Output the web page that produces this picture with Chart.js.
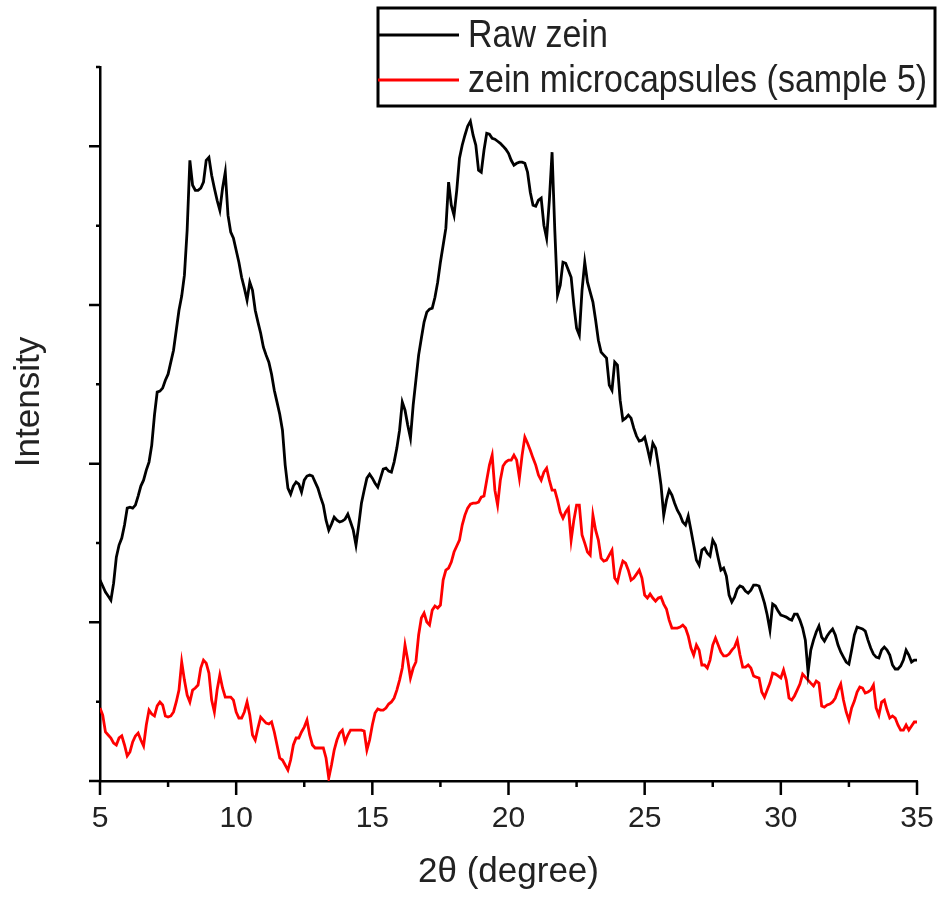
<!DOCTYPE html>
<html>
<head>
<meta charset="utf-8">
<title>XRD patterns of zein</title>
<script src="https://cdn.jsdelivr.net/npm/chart.js@4.4.1/dist/chart.umd.min.js"></script>
<style>
  html, body { margin: 0; padding: 0; background: #fff; }
  #wrap { width: 938px; height: 900px; position: relative; }
</style>
</head>
<body>
<div id="wrap"><canvas id="xrd"></canvas></div>
<script>
'use strict';

// ── SCAN GRID ─────────────────────────────────────────────────────
const SCAN_START = 5;     // 2θ, degree
const SCAN_STEP  = 0.1;

const X_TICKS = [5, 10, 15, 20, 25, 30, 35];
const X_MINOR = [7.5, 12.5, 17.5, 22.5, 27.5, 32.5];
const Y_TICKS = [0, 1000, 2000, 3000, 4000];
const Y_MINOR = [500, 1500, 2500, 3500, 4500];

// ── INTENSITIES (a.u.), one value per scan step ───────────────────
const rawZein = [
  1266, 1229, 1191, 1166, 1140, 1247, 1411, 1487, 1531, 1613,
  1720, 1726, 1720, 1739, 1796, 1859, 1896, 1959, 2010, 2117,
  2306, 2451, 2457, 2476, 2526, 2564, 2640, 2715, 2841, 2967,
  3056, 3188, 3471, 3912, 3755, 3723, 3723, 3736, 3774, 3912,
  3931, 3818, 3736, 3660, 3597, 3736, 3837, 3566, 3459, 3421,
  3345, 3270, 3175, 3106, 3030, 3144, 3093, 2967, 2892, 2822,
  2734, 2684, 2640, 2564, 2463, 2388, 2312, 2211, 1991, 1846,
  1808, 1859, 1884, 1871, 1821, 1896, 1922, 1928, 1922, 1884,
  1846, 1789, 1739, 1644, 1581, 1619, 1663, 1644, 1632, 1638,
  1651, 1682, 1632, 1581, 1487, 1613, 1751, 1833, 1909, 1934,
  1909, 1877, 1852, 1909, 1966, 1972, 1953, 1947, 2010, 2098,
  2211, 2388, 2337, 2243, 2161, 2369, 2526, 2684, 2791, 2892,
  2955, 2974, 2980, 3049, 3144, 3270, 3377, 3484, 3774, 3629,
  3566, 3723, 3925, 4007, 4070, 4127, 4158, 4070, 4007, 3849,
  3837, 3975, 4082, 4076, 4051, 4045, 4032, 4019, 4001, 3982,
  3956, 3912, 3881, 3893, 3900, 3900, 3893, 3837, 3711, 3629,
  3623, 3660, 3673, 3503, 3421, 3660, 3963, 3471, 3062, 3125,
  3270, 3263, 3219, 3175, 2999, 2854, 2810, 3093, 3270, 3144,
  3081, 3018, 2904, 2778, 2703, 2684, 2665, 2495, 2463, 2640,
  2621, 2400, 2274, 2287, 2306, 2287, 2224, 2174, 2142, 2148,
  2167, 2098, 2022, 2129, 2098, 1991, 1865, 1676, 1770, 1833,
  1802, 1751, 1707, 1676, 1632, 1613, 1670, 1581, 1487, 1392,
  1361, 1455, 1468, 1436, 1418, 1518, 1487, 1405, 1329, 1342,
  1292, 1172, 1128, 1159, 1210, 1229, 1222, 1197, 1184, 1203,
  1235, 1235, 1229, 1178, 1121, 1046,  951, 1115, 1103, 1071,
  1046, 1040, 1033, 1021, 1014, 1052, 1052, 1014,  964,  888,
   687,  825,  888,  939,  977,  907,  882,  914,  939,  958,
   920,  857,  813,  781,  750,  737,  825,  920,  970,  964,
   958,  945,  888,  838,  800,  781,  775,  825,  844,  825,
   794,  731,  706,  706,  725,  762,  825,  794,  750,  762,
   762
];

const microcapsules = [
   460,  416,  309,  290,  271,  239,  227,  271,  284,  227,
   158,  183,  246,  284,  302,  258,  221,  353,  447,  422,
   410,  473,  498,  479,  410,  403,  410,  435,  498,  573,
   750,  636,  542,  498,  573,  586,  605,  712,  762,  743,
   680,  510,  435,  573,  668,  586,  529,  529,  529,  510,
   435,  397,  397,  435,  498,  416,  290,  258,  334,  403,
   384,  365,  359,  372,  309,  227,  145,  132,  101,   69,
   132,  227,  271,  271,  309,  340,  384,  290,  227,  208,
   208,  208,  208,  145,   19,  101,  195,  258,  302,  321,
   246,  290,  321,  321,  321,  321,  321,  315,  195,  258,
   353,  428,  454,  447,  447,  460,  485,  498,  523,  573,
   636,  712,  857,  762,  649,  712,  750,  920, 1027, 1058,
  1002,  983, 1077, 1103, 1090, 1109, 1266, 1329, 1342, 1380,
  1443, 1481, 1518, 1613, 1676, 1720, 1745, 1751, 1751, 1758,
  1789, 1796, 1896, 1991, 2054, 1833, 1739, 1896, 1985, 2010,
  2022, 2022, 2054, 2022, 1909, 2054, 2167, 2129, 2085, 2035,
  1991, 1928, 1896, 1947, 1972, 1896, 1833, 1833, 1770, 1695,
  1657, 1695, 1720, 1518, 1644, 1739, 1739, 1550, 1499, 1443,
  1424, 1676, 1581, 1518, 1405, 1386, 1392, 1424, 1455, 1279,
  1254, 1329, 1386, 1373, 1329, 1266, 1279, 1304, 1329, 1279,
  1172, 1153, 1178, 1153, 1134, 1153, 1159, 1115, 1084, 1014,
   964,  964,  964,  970,  983,  964,  914,  838,  794,  857,
   825,  731,  731,  712,  762,  857,  901,  857,  813,  788,
   788,  800,  825,  844,  888,  794,  718,  718,  731,  712,
   662,  655,  649,  561,  529,  573,  617,  680,  674,  662,
   649,  699,  636,  523,  510,  536,  573,  611,  674,  655,
   636,  617,  599,  630,  617,  473,  466,  479,  485,  498,
   523,  573,  611,  510,  435,  384,  460,  504,  561,  592,
   586,  554,  561,  573,  605,  460,  416,  498,  510,  447,
   397,  410,  397,  353,  321,  321,  353,  321,  347,  372,
   372
];

const SERIES_LABELS = ['Raw zein', 'zein microcapsules (sample 5)'];
const SERIES_COLORS = ['#000000', '#ff0000'];

// ── STYLE ─────────────────────────────────────────────────────────
const FONT_FAMILY = "'Liberation Sans', Arial, sans-serif";
const TEXT_COLOR  = '#222';
const AXIS_WIDTH  = 2.5;

Chart.defaults.font.family = FONT_FAMILY;
Chart.defaults.color = TEXT_COLOR;

function toPoints(values) {
  return values.map((v, i) => ({ x: +(SCAN_START + i * SCAN_STEP).toFixed(1), y: v }));
}

// ── TICK MARKS (major + minor, outward) ──────────────────────────
const axisTicks = {
  id: 'axisTicks',
  afterDraw(chart) {
    const { ctx, scales: { x, y } } = chart;
    ctx.save();
    ctx.strokeStyle = '#000';
    ctx.lineWidth = AXIS_WIDTH;
    ctx.beginPath();
    const mark = (px, py, dx, dy) => { ctx.moveTo(px, py); ctx.lineTo(px + dx, py + dy); };
    X_TICKS.forEach(v => mark(x.getPixelForValue(v), y.bottom, 0, 14));
    X_MINOR.forEach(v => mark(x.getPixelForValue(v), y.bottom, 0, 6));
    Y_TICKS.forEach(v => mark(x.left, y.getPixelForValue(v), -11, 0));
    Y_MINOR.forEach(v => mark(x.left, y.getPixelForValue(v), -4, 0));
    ctx.stroke();
    ctx.restore();
  }
};

// ── Y TITLE (sits a little above the axis centre) ─────────────────
const yTitle = {
  id: 'yTitle',
  afterDraw(chart) {
    const { ctx } = chart;
    ctx.save();
    ctx.translate(29, 402);
    ctx.rotate(-Math.PI / 2);
    ctx.font = `35px ${FONT_FAMILY}`;
    ctx.fillStyle = TEXT_COLOR;
    ctx.textAlign = 'center';
    ctx.textBaseline = 'middle';
    ctx.fillText('Intensity', 0, 0);
    ctx.restore();
  }
};

// ── BOXED LEGEND, top right ───────────────────────────────────────
const boxLegend = {
  id: 'boxLegend',
  afterDraw(chart) {
    const { ctx } = chart;
    const box = { x: 378, y: 8, w: 557, h: 98 };
    const rows = [35, 80];
    ctx.save();
    ctx.fillStyle = '#fff';
    ctx.fillRect(box.x, box.y, box.w, box.h);
    ctx.strokeStyle = '#000';
    ctx.lineWidth = 3;
    ctx.strokeRect(box.x, box.y, box.w, box.h);
    chart.data.datasets.forEach((ds, i) => {
      const ly = rows[i];
      ctx.strokeStyle = ds.borderColor;
      ctx.lineWidth = 3;
      ctx.beginPath();
      ctx.moveTo(box.x, ly);
      ctx.lineTo(459, ly);
      ctx.stroke();
      // labels are set a bit tall, like the rest of the figure text
      ctx.save();
      ctx.translate(468, ly + 12);
      ctx.scale(1, 1.14);
      ctx.font = `34px ${FONT_FAMILY}`;
      ctx.textBaseline = 'alphabetic';
      ctx.fillStyle = TEXT_COLOR;
      ctx.fillText(ds.label, 0, 0);
      ctx.restore();
    });
    ctx.restore();
  }
};

// ── CHART ─────────────────────────────────────────────────────────
const canvas = document.getElementById('xrd');
canvas.width = 938;
canvas.height = 900;

new Chart(canvas.getContext('2d'), {
  type: 'line',
  data: {
    datasets: [rawZein, microcapsules].map((vals, i) => ({
      label: SERIES_LABELS[i],
      data: toPoints(vals),
      borderColor: SERIES_COLORS[i],
      borderWidth: 2.8,
      pointRadius: 0,
      tension: 0,
      fill: false
    }))
  },
  options: {
    responsive: false,
    animation: false,
    layout: { padding: { top: 67, right: 21, left: 0, bottom: 0 } },
    plugins: {
      legend: { display: false },
      tooltip: { enabled: false }
    },
    scales: {
      x: {
        type: 'linear',
        min: 5,
        max: 35,
        afterBuildTicks: s => { s.ticks = X_TICKS.map(v => ({ value: v })); },
        afterFit: s => { s.height = 119; s.paddingLeft = 0; s.paddingRight = 0; },
        grid: { display: false },
        border: { display: true, color: '#000', width: AXIS_WIDTH },
        ticks: { font: { size: 30 }, color: TEXT_COLOR, padding: 12, maxRotation: 0 },
        title: {
          display: true,
          text: '2θ (degree)',
          font: { size: 35 },
          color: TEXT_COLOR,
          padding: { top: 0, bottom: 7 }
        }
      },
      y: {
        min: 0,
        max: 4500,
        afterFit: s => { s.width = 100; },
        grid: { display: false },
        border: { display: true, color: '#000', width: AXIS_WIDTH },
        ticks: { display: false }
      }
    }
  },
  plugins: [axisTicks, yTitle, boxLegend]
});
</script>
</body>
</html>
